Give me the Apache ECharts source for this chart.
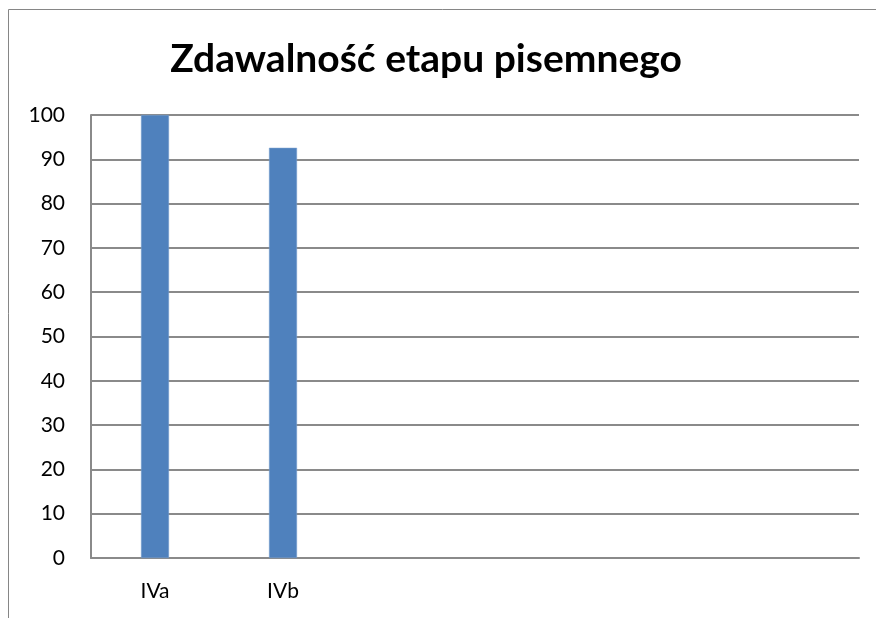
<!DOCTYPE html>
<html>
<head>
<meta charset="utf-8">
<script src="https://cdn.jsdelivr.net/npm/echarts@6/dist/echarts.min.js"></script>
<style>
  html, body { margin: 0; padding: 0; background: #fff; }
  #chart { width: 876px; height: 618px; }
</style>
</head>
<body>
<div id="chart"></div>
<script>
// categories (last four are empty slots on the axis)
const categories = ['IVa', 'IVb', '', '', '', ''];
const passRate = [100, 92.6, null, null, null, null];
const yTicks = { min: 0, max: 100, step: 10 };

const chart = echarts.init(document.getElementById('chart'));
const gridColor = '#8a8a8a';
const font = 'Lato, "Open Sans", sans-serif';
const frame = { stroke: '#868686', lineWidth: 1 };

chart.setOption({
  animation: false,
  title: {
    text: 'Zdawalność etapu pisemnego',
    left: 421,
    top: 35,
    textAlign: 'center',
    textStyle: { fontFamily: font, fontWeight: 'bold', fontSize: 39, color: '#000' }
  },
  // chart-area frame, only left and top edges are visible
  graphic: [
    { type: 'line', silent: true, shape: { x1: 8.5, y1: 9.5, x2: 876, y2: 9.5 }, style: frame },
    { type: 'line', silent: true, shape: { x1: 8.5, y1: 9.5, x2: 8.5, y2: 618 }, style: frame }
  ],
  grid: { left: 91, right: 17, top: 115, bottom: 60 },
  xAxis: {
    type: 'category',
    data: categories,
    axisLine: { lineStyle: { color: gridColor, width: 2 } },
    axisTick: { show: false },
    axisLabel: { color: '#000', fontFamily: font, fontSize: 21, margin: 23 }
  },
  yAxis: {
    type: 'value',
    min: yTicks.min,
    max: yTicks.max,
    interval: yTicks.step,
    axisLine: { show: true, lineStyle: { color: gridColor, width: 2 } },
    axisTick: { show: false },
    splitLine: { lineStyle: { color: gridColor, width: 2 } },
    axisLabel: { color: '#000', fontFamily: font, fontSize: 21, margin: 26 }
  },
  series: [{
    type: 'bar',
    data: passRate,
    barWidth: 28,
    itemStyle: { color: '#4f81bd', borderColor: '#7da3d1', borderWidth: 0.5 }
  }]
});
</script>
</body>
</html>
